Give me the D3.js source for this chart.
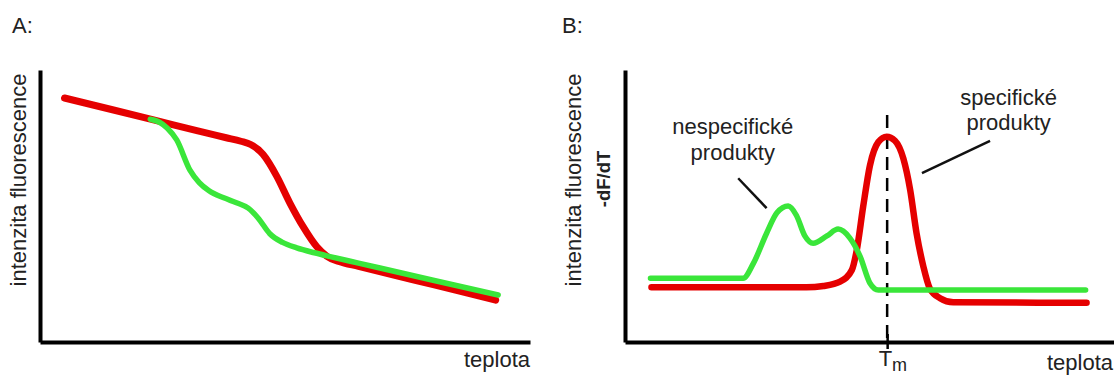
<!DOCTYPE html>
<html>
<head>
<meta charset="utf-8">
<script src="https://d3js.org/d3.v7.min.js"></script>
<style>
  body { margin: 0; background: #fff; }
  text { font-family: "Liberation Sans", Arial, sans-serif; fill: #222; }
</style>
</head>
<body>
<div id="chart"></div>
<script>
// Panel A: melting curves, [teplota, intenzita fluorescence]
var redA = [[5,89.7],[15,85.3],[24,81.3],[32,77.7],[38,75.1],[41,73.8],[43,72.6],[45.5,69],[48.3,61],[51,51.1],[53.7,42.4],[56.5,35],[58.5,31.6],[61,29.6],[65,27.8],[77,22.5],[85,19],[93,15.4]];
var greenA = [[22.5,81.9],[24.3,80.9],[26,78.6],[27.9,74.3],[30.6,63.2],[32.5,58.6],[34.5,55.6],[37.5,53],[40.1,51.2],[42.5,49.2],[44.5,45.6],[46.9,39.8],[49.5,36.6],[52.4,34.6],[56,32.8],[59.2,31.4],[65,29],[80,22.8],[93.5,17.3]];

// Panel B: derivative curves, [teplota, -dF/dT]
var redB = [[5.4,20.1],[37,20.1],[40.5,20.6],[43.9,22.2],[46.3,26.5],[47.3,33.8],[48.6,49.7],[50,65],[51.7,73.5],[53.4,75.5],[55.1,74],[56.8,67.5],[58.2,55.9],[59.5,40],[60.9,27.7],[62.2,19.7],[64.3,16.1],[67,14.6],[94.2,14.4]];
var greenB = [[5.2,23.4],[24.1,23.4],[26.2,28.9],[28.9,40],[31,47.5],[33.3,50],[35,46.5],[36.7,39],[38.4,36.3],[41.2,39],[43.5,41.5],[45.9,38.2],[48,31.4],[50,21.6],[51.7,19.1],[94,19.1]];

// annotations (data units of panel B)
var tm = 53.5;
var tmTop = 83.5;
var notes = [
  {lines: ["nespecifické", "produkty"], x: 22, y: 76.3, leader: [[23.1,60.2],[28.9,49.2]]},
  {lines: ["specifické", "produkty"], x: 78.3, y: 87.3, leader: [[74.5,73.9],[60.6,62.1]]}
];

var width = 1114, height = 376;
var red = "#e50000", green = "#3ae63a";

var svg = d3.select("#chart").append("svg")
    .attr("width", width)
    .attr("height", height);

var xA = d3.scaleLinear().domain([0, 100]).range([40, 530]);
var xB = d3.scaleLinear().domain([0, 100]).range([625, 1115]);
var y = d3.scaleLinear().domain([0, 100]).range([342, 70]);

function drawAxes(x, ticks) {
    var xAxis = svg.append("g")
        .attr("transform", "translate(0," + y(0) + ")")
        .call(d3.axisBottom(x).tickValues(ticks).tickSize(7).tickSizeOuter(0).tickFormat(""));
    svg.append("g")
        .attr("transform", "translate(" + x(0) + ",0)")
        .call(d3.axisLeft(y).tickValues([]).tickSizeOuter(0));
    svg.selectAll(".domain")
        .attr("stroke", "#000")
        .attr("stroke-width", 4);
    xAxis.selectAll(".tick line")
        .attr("y1", -8)
        .attr("stroke", "#000")
        .attr("stroke-width", 2.5);
    return xAxis;
}

function drawLine(x, data, color, w) {
    var line = d3.line()
        .x(function (d) { return x(d[0]); })
        .y(function (d) { return y(d[1]); })
        .curve(d3.curveMonotoneX);
    svg.append("path")
        .datum(data)
        .attr("d", line)
        .attr("fill", "none")
        .attr("stroke", color)
        .attr("stroke-width", w)
        .attr("stroke-linecap", "round")
        .attr("stroke-linejoin", "round");
}

/******* PANEL A *******/
drawAxes(xA, []);
drawLine(xA, redA, red, 7);
drawLine(xA, greenA, green, 5.5);

svg.append("text").attr("x", 12).attr("y", 33).attr("font-size", 22).text("A:");
svg.append("text")
    .attr("transform", "translate(26,180) rotate(-90)")
    .attr("text-anchor", "middle")
    .attr("font-size", 22)
    .text("intenzita fluorescence");
svg.append("text")
    .attr("x", xA(100)).attr("y", 367)
    .attr("text-anchor", "end")
    .attr("font-size", 22)
    .text("teplota");

/******* PANEL B *******/
drawAxes(xB, [tm]);

// T_m marker
svg.append("line")
    .attr("x1", xB(tm)).attr("x2", xB(tm))
    .attr("y1", y(tmTop)).attr("y2", y(0) - 2)
    .attr("stroke", "#000")
    .attr("stroke-width", 2.5)
    .attr("stroke-dasharray", "13,8");

drawLine(xB, redB, red, 6.5);
drawLine(xB, greenB, green, 5.5);

var tmLabel = svg.append("text")
    .attr("x", xB(tm) - 8.5).attr("y", 366)
    .attr("font-size", 22);
tmLabel.append("tspan").text("T");
tmLabel.append("tspan").attr("font-size", 18).attr("dy", 5).text("m");

svg.append("text").attr("x", 562).attr("y", 33).attr("font-size", 22).text("B:");
svg.append("text")
    .attr("transform", "translate(581,180) rotate(-90)")
    .attr("text-anchor", "middle")
    .attr("font-size", 22)
    .text("intenzita fluorescence");
svg.append("text")
    .attr("transform", "translate(610,179) rotate(-90)")
    .attr("text-anchor", "middle")
    .attr("font-size", 18.5)
    .attr("font-weight", "bold")
    .text("-dF/dT");
svg.append("text")
    .attr("x", width - 1).attr("y", 370)
    .attr("text-anchor", "end")
    .attr("font-size", 22)
    .text("teplota");

notes.forEach(function (n) {
    var t = svg.append("text")
        .attr("text-anchor", "middle")
        .attr("font-size", 22);
    n.lines.forEach(function (s, i) {
        t.append("tspan")
            .attr("x", xB(n.x))
            .attr("y", y(n.y) + i * 25.5)
            .text(s);
    });
    svg.append("line")
        .attr("x1", xB(n.leader[0][0])).attr("y1", y(n.leader[0][1]))
        .attr("x2", xB(n.leader[1][0])).attr("y2", y(n.leader[1][1]))
        .attr("stroke", "#111")
        .attr("stroke-width", 2.5);
});
</script>
</body>
</html>
